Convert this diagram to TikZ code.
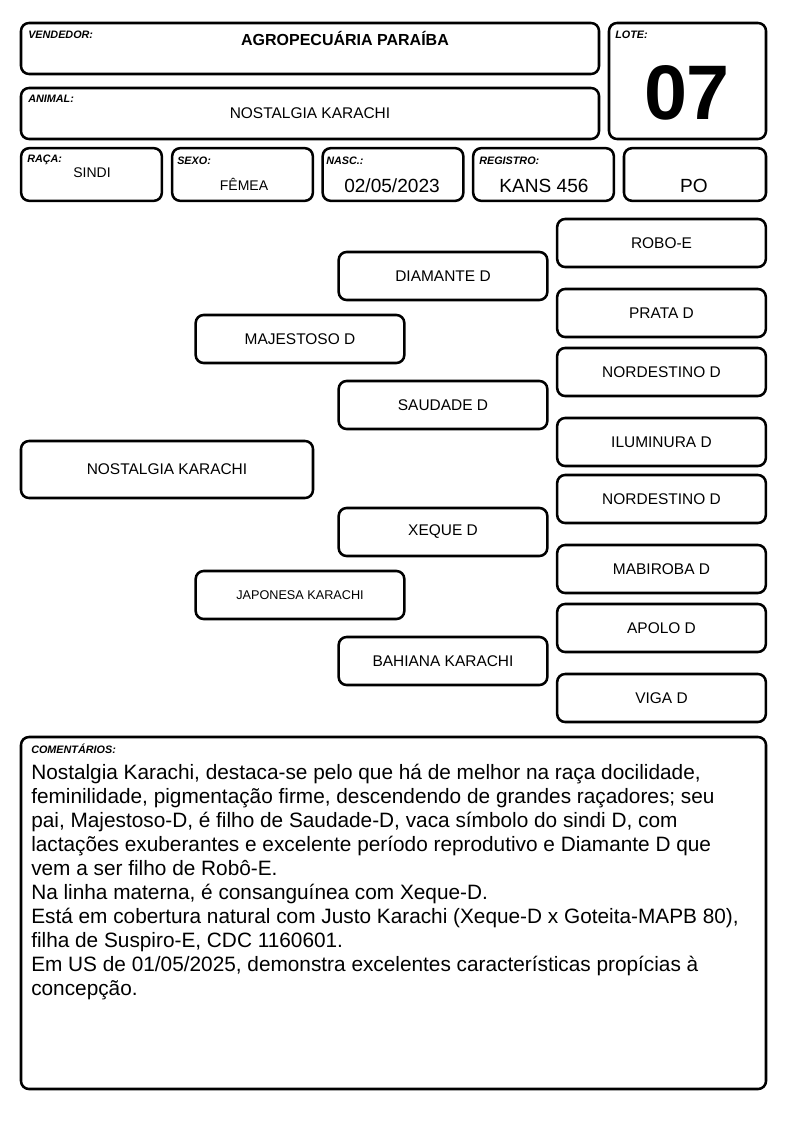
\documentclass[tikz,border=0pt]{standalone}
\usepackage{fontspec}
\setmainfont{Liberation Sans}
\begin{document}
\begin{tikzpicture}[x=0.75pt,y=-0.75pt,
  frame/.style={draw, line width=1.9pt, rounded corners=6pt, inner sep=0pt},
  lbl/.style={anchor=north west, inner sep=0pt, font=\fontsize{8.1}{9}\selectfont\bfseries\itshape},
  val/.style={inner sep=0pt, font=\fontsize{10.5}{12}\selectfont},
  bigval/.style={inner sep=0pt, font=\fontsize{14.3}{16}\selectfont},
  pbox/.style={frame, minimum width=156.5pt, minimum height=36pt, font=\fontsize{11.6}{13}\selectfont},
  cell/.style={frame, minimum width=105.5pt, minimum height=39.5pt}]
\useasboundingbox[fill=white] (0,0) rectangle (794,1123);
% header
\node[frame, minimum width=433.5pt, minimum height=38.25pt] (vend) at (310,48.5) {};
\node[lbl] (vendl) at (28,31) {VENDEDOR:};
\node[inner sep=0pt, font=\fontsize{12}{14}\selectfont\bfseries] (vendv) at (345,38) {AGROPECUÁRIA PARAÍBA};
\node[frame, minimum width=433.5pt, minimum height=38.25pt] (anim) at (310,113.5) {};
\node[lbl] (animl) at (28,95) {ANIMAL:};
\node[inner sep=0pt, font=\fontsize{11.6}{13}\selectfont] (animv) at (310,113) {NOSTALGIA KARACHI};
\node[frame, minimum width=117.75pt, minimum height=87pt] (lote) at (687.5,81) {};
\node[lbl] (lotel) at (615,31) {LOTE:};
\node[inner sep=0pt, font=\fontsize{58}{60}\selectfont\bfseries] (lotev) at (687,93) {07};
% row 3
\node[cell] (raca) at (91.5,174.5) {};
\node[lbl] (racal) at (27,155) {RAÇA:};
\node[val] (racav) at (92,173) {SINDI};
\node[cell] (sexo) at (242.5,174.5) {};
\node[lbl] (sexol) at (177,157) {SEXO:};
\node[val] (sexov) at (244,184) {FÊMEA};
\node[cell] (nasc) at (393,174.5) {};
\node[lbl] (nascl) at (326,157) {NASC.:};
\node[bigval] (nascv) at (392,186) {02/05/2023};
\node[cell] (reg) at (543.5,174.5) {};
\node[lbl] (regl) at (479,157) {REGISTRO:};
\node[bigval] (regv) at (544,186) {KANS 456};
\node[cell, minimum width=106.5pt] (po) at (695,174.5) {};
\node[bigval] (pov) at (694,186) {PO};
% pedigree
\node[frame, minimum width=219pt, minimum height=42.75pt, font=\fontsize{11.6}{13}\selectfont] (animal) at (167,469.5) {NOSTALGIA KARACHI};
\node[pbox] (pai) at (300,339) {MAJESTOSO D};
\node[pbox, font=\fontsize{9.5}{11}\selectfont] (mae) at (300,595) {JAPONESA KARACHI};
\node[pbox] (avp1) at (443,276) {DIAMANTE D};
\node[pbox] (avp2) at (443,405) {SAUDADE D};
\node[pbox] (avm1) at (443,532) {XEQUE D};
\node[pbox] (avm2) at (443,661) {BAHIANA KARACHI};
\node[pbox] (b1) at (661.5,243) {ROBO-E};
\node[pbox] (b2) at (661.5,313) {PRATA D};
\node[pbox] (b3) at (661.5,372) {NORDESTINO D};
\node[pbox] (b4) at (661.5,442) {ILUMINURA D};
\node[pbox] (b5) at (661.5,499) {NORDESTINO D};
\node[pbox] (b6) at (661.5,569) {MABIROBA D};
\node[pbox] (b7) at (661.5,628) {APOLO D};
\node[pbox] (b8) at (661.5,698) {VIGA D};
% comments
\node[frame, minimum width=558.75pt, minimum height=264pt] (com) at (393.5,913) {};
\node[lbl] (coml) at (31,744) {COMENTÁRIOS:};
\node[anchor=north west, inner sep=0pt, align=left, font=\fontsize{15.6}{18}\selectfont] (comt) at (31,764) {Nostalgia Karachi, destaca-se pelo que há de melhor na raça docilidade,\\
feminilidade, pigmentação firme, descendendo de grandes raçadores; seu\\
pai, Majestoso-D, é filho de Saudade-D, vaca símbolo do sindi D, com\\
lactações exuberantes e excelente período reprodutivo e Diamante D que\\
vem a ser filho de Robô-E.\\
Na linha materna, é consanguínea com Xeque-D.\\
Está em cobertura natural com Justo Karachi (Xeque-D x Goteita-MAPB 80),\\
filha de Suspiro-E, CDC 1160601.\\
Em US de 01/05/2025, demonstra excelentes características propícias à\\
concepção.};
\end{tikzpicture}
\end{document}
